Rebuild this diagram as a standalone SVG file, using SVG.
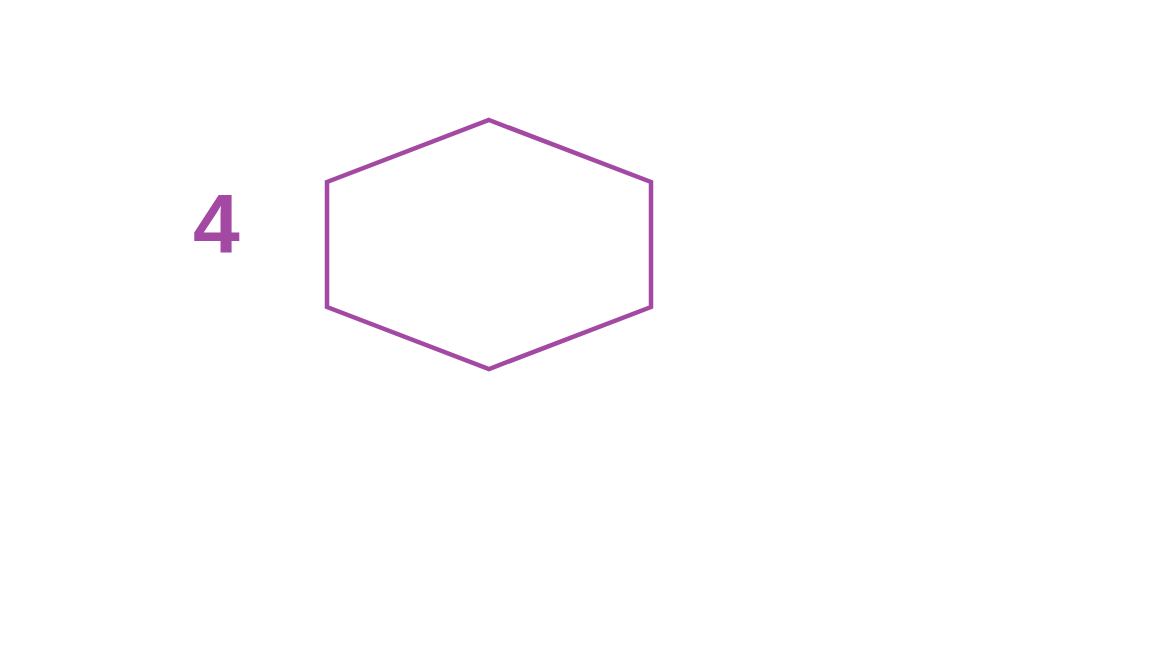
<svg xmlns="http://www.w3.org/2000/svg" width="1152" height="648" viewBox="0 0 1152 648">
<style>
.shape{fill:none;stroke:#A349A4;stroke-width:4.5;stroke-linejoin:miter}
.num{font-family:"Liberation Sans",Arial,sans-serif;font-weight:bold;font-size:84px;fill:#A349A4}
</style>
<rect width="1152" height="648" fill="#ffffff"/>
<g id="label"><text class="num" x="193" y="253">4</text></g>
<g id="hexagon"><polygon class="shape" points="489,120 651,182 651,307 489,369 327,307 327,182"/></g>
<g id="connectors"></g>
</svg>
